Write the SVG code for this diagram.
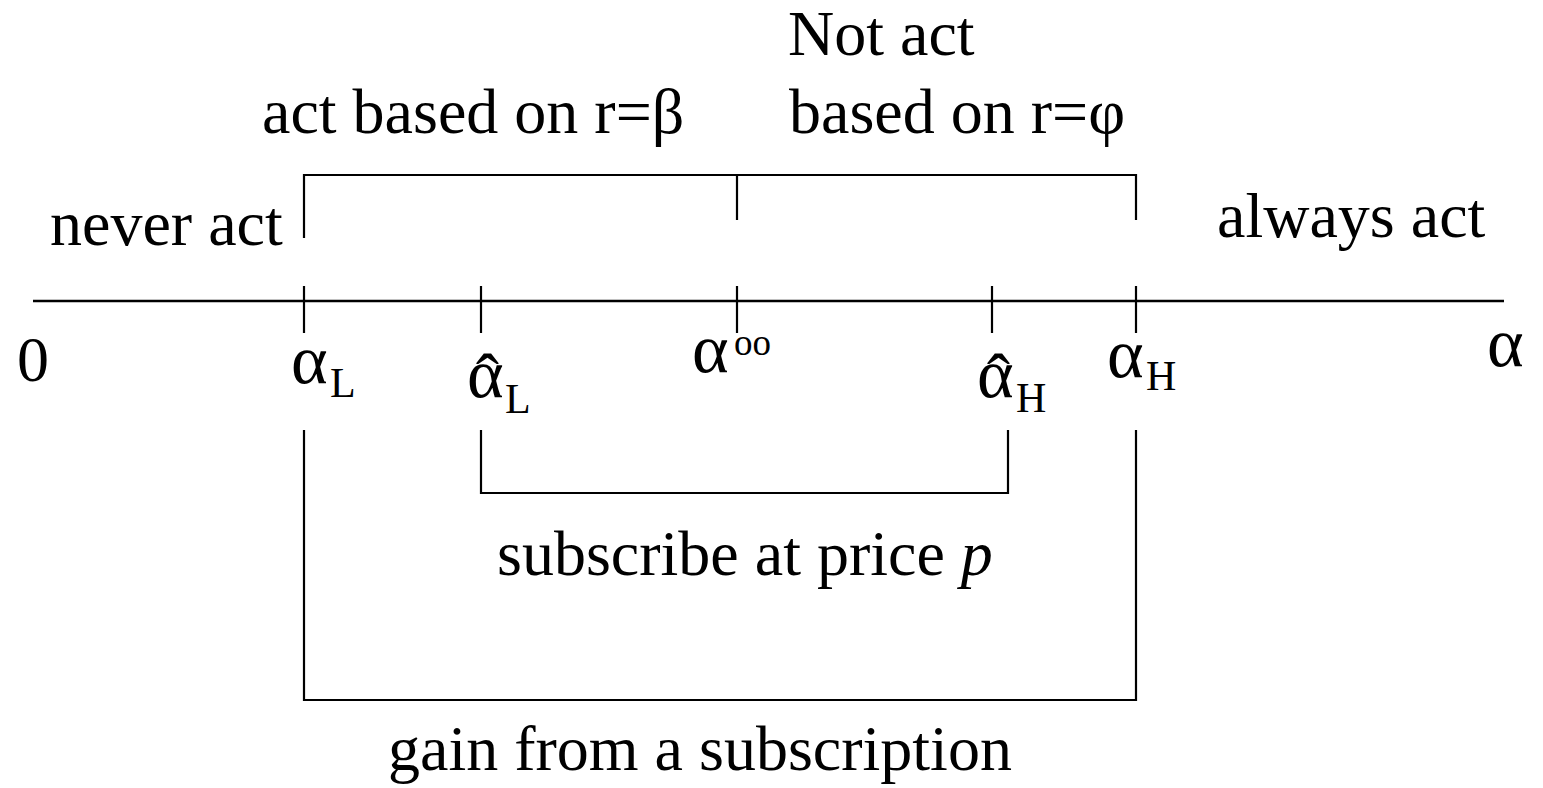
<svg xmlns="http://www.w3.org/2000/svg" width="1543" height="788" viewBox="0 0 1543 788">
<style>
.t{font-family:"Liberation Serif","Times New Roman",serif;font-size:64px;fill:#000}
.a{font-family:"Liberation Serif","Times New Roman",serif;font-size:70px;fill:#000}
.s{font-family:"Liberation Serif","Times New Roman",serif;font-size:42px;fill:#000}
.sup{font-family:"Liberation Serif","Times New Roman",serif;font-size:37px;fill:#000}
.ln{stroke:#000;stroke-width:2.2;fill:none}
.ax{stroke:#000;stroke-width:2.6;fill:none}
</style>
<rect width="1543" height="788" fill="#fff"/>
<g id="connectors">
<line id="axis" class="ax" x1="33" y1="301" x2="1504" y2="301"/>
<line class="ln" x1="304" y1="286" x2="304" y2="333"/>
<line class="ln" x1="481" y1="286" x2="481" y2="333"/>
<line class="ln" x1="737" y1="286" x2="737" y2="333"/>
<line class="ln" x1="992" y1="286" x2="992" y2="333"/>
<line class="ln" x1="1136" y1="286" x2="1136" y2="333"/>
<path id="top-bracket" class="ln" d="M304,238 V175 H1136 V220 M737,175 V220"/>
<path id="inner-bracket" class="ln" d="M481,430 V493 H1008 V430"/>
<path id="outer-bracket" class="ln" d="M304,430 V700 H1136 V430"/>
</g>
<g id="top-labels">
<text class="t" x="788" y="55">Not act</text>
<text class="t" x="262" y="133">act based on r=β</text>
<text class="t" x="789" y="133">based on r=φ</text>
<text class="t" x="50" y="245">never act</text>
<text class="t" x="1217" y="237">always act</text>
</g>
<g id="axis-labels">
<text class="t" x="17" y="381">0</text>
<text class="a" x="1487" y="366">α</text>
<g id="alphaL"><text class="a" x="291" y="383">α</text><text class="s" x="330" y="397">L</text></g>
<g id="alphaLhat"><text class="a" x="467" y="397">α<tspan dx="-28" dy="5">ˆ</tspan></text><text class="s" x="505" y="413">L</text></g>
<g id="alphaoo"><text class="a" x="692" y="372">α</text><text class="sup" x="734" y="355">oo</text></g>
<g id="alphaHhat"><text class="a" x="977" y="397">α<tspan dx="-27" dy="5">ˆ</tspan></text><text class="s" x="1016" y="412">H</text></g>
<g id="alphaH"><text class="a" x="1107" y="377">α</text><text class="s" x="1146" y="390">H</text></g>
</g>
<g id="bottom-labels">
<text class="t" x="497" y="575">subscribe at price <tspan font-style="italic">p</tspan></text>
<text class="t" x="388" y="770">gain from a subscription</text>
</g>
</svg>
